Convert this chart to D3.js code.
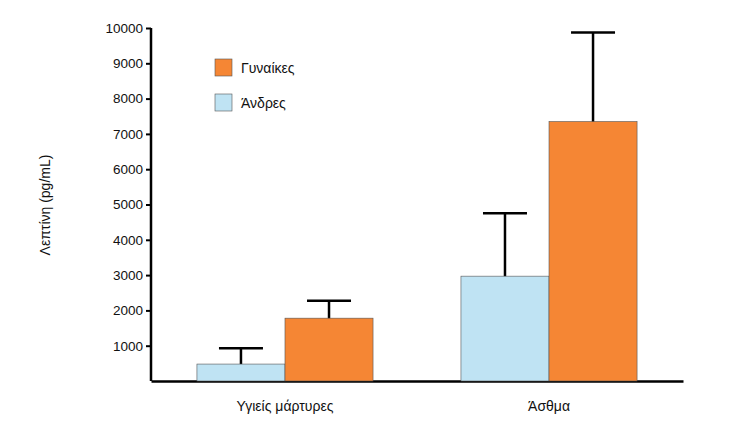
<!DOCTYPE html>
<html><head><meta charset="utf-8">
<script src="https://cdn.jsdelivr.net/npm/d3@7"></script>
<style>body{margin:0;background:#fff}text{font-family:Arial,"Liberation Sans",sans-serif}</style>
</head><body><div></div>
<script>
var groups = ["Υγιείς μάρτυρες", "Άσθμα"];
var series = ["Άνδρες", "Γυναίκες"];
var colors = ["#bfe3f3", "#f58634"];
var men = [480, 2970];
var menErr = [450, 1780];
var women = [1780, 7350];
var womenErr = [490, 2520];
var yTicks = [1000,2000,3000,4000,5000,6000,7000,8000,9000,10000];

var svg = d3.select("div").append("svg").attr("width", 741).attr("height", 435);

var y = d3.scaleLinear().domain([0, 10000]).range([381, 28]);
var x = d3.scaleBand().domain(groups).range([151, 683]).paddingInner(0.333).paddingOuter(0.174);
var xs = d3.scaleBand().domain(series).range([0, x.bandwidth()]);

//y axis
var ya = svg.append("g").attr("transform", "translate(151,0)")
  .call(d3.axisLeft(y).tickValues(yTicks).tickSize(5).tickFormat(d3.format("d")));
ya.select(".domain").attr("d", "M0," + y(10000) + "V" + y(0)).attr("stroke-width", 2.5);
ya.selectAll("line").attr("stroke-width", 2);
ya.selectAll("text").attr("font-size", 13.5).attr("fill", "#111");

//x axis
var xa = svg.append("g").attr("transform", "translate(0,381)")
  .call(d3.axisBottom(x).tickSize(0).tickPadding(20));
xa.select(".domain").attr("stroke-width", 2.5);
xa.selectAll("text").attr("font-size", 14).attr("fill", "#111");

svg.append("text").attr("transform", "translate(50,205) rotate(-90)")
  .attr("text-anchor", "middle").attr("font-size", 14).attr("fill", "#111")
  .text("Λεπτίνη (pg/mL)");

var data = [];
groups.forEach(function(g, i){
  data.push({g: g, s: series[0], v: men[i], e: menErr[i], c: colors[0]});
  data.push({g: g, s: series[1], v: women[i], e: womenErr[i], c: colors[1]});
});

var bars = svg.append("g").selectAll("g").data(data).enter().append("g")
  .attr("transform", function(d){ return "translate(" + (x(d.g) + xs(d.s)) + ",0)"; });
var w = xs.bandwidth();
bars.append("line").attr("x1", w/2).attr("x2", w/2)
  .attr("y1", function(d){ return y(d.v) + 3; }).attr("y2", function(d){ return y(d.v + d.e); })
  .attr("stroke", "#000").attr("stroke-width", 2.5);
bars.append("line").attr("x1", w/2 - 22).attr("x2", w/2 + 22)
  .attr("y1", function(d){ return y(d.v + d.e); }).attr("y2", function(d){ return y(d.v + d.e); })
  .attr("stroke", "#000").attr("stroke-width", 2.5);
bars.append("rect").attr("x", 0).attr("width", w)
  .attr("y", function(d){ return y(d.v); }).attr("height", function(d){ return y(0) - y(d.v); })
  .attr("fill", function(d){ return d.c; }).attr("stroke", "#555").attr("stroke-width", 0.6);

//legend
var leg = svg.append("g").selectAll("g").data([1, 0]).enter().append("g")
  .attr("transform", function(d, i){ return "translate(215," + (59 + i*35) + ")"; });
leg.append("rect").attr("width", 17).attr("height", 17)
  .attr("fill", function(d){ return colors[d]; }).attr("stroke", "#555").attr("stroke-width", 0.6);
leg.append("text").attr("x", 26).attr("y", 14).attr("font-size", 14).attr("fill", "#111")
  .text(function(d){ return series[d]; });
</script></body></html>
